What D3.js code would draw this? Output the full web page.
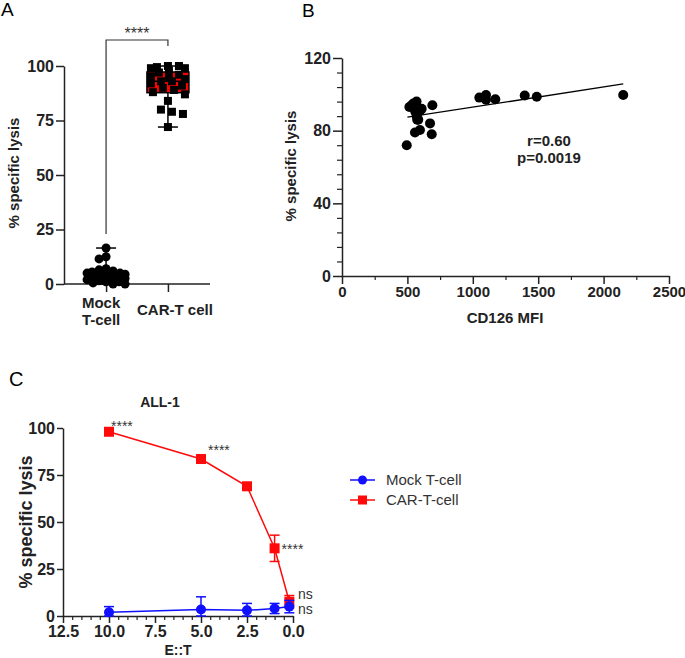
<!DOCTYPE html>
<html><head><meta charset="utf-8">
<script src="https://cdn.jsdelivr.net/npm/d3@7"></script>
<style>
body{margin:0;background:#fff}
text{font-family:"Liberation Sans",Arial,sans-serif}
</style>
</head><body>
<svg id="chart" width="685" height="658"></svg>
<script>
// ---------- DATA ----------
// Panel A
const catsA = ["Mock T-cell", "CAR-T cell"];
const mockLysis = [16.5, 12.5, 11.5, 7, 6.5, 6, 5.5, 5, 5, 4.5, 4.5, 4, 4, 3.5, 3, 3, 2.5, 2, 2, 1.5, 1, 1, 0.5, 0, 0];
const carLysis = [100, 100, 99.5, 99, 99, 98, 97, 96, 95, 95, 94, 93, 93, 92, 91, 90, 89, 88, 87, 84, 80, 79, 78, 72];
const ticksA = [0, 25, 50, 75, 100];
const sigA = "****";

// Panel B
const cd126MFI = [495, 515, 533, 545, 558, 560, 570, 571, 575, 583, 596, 596, 609, 673, 686, 691, 1050, 1101, 1101, 1172, 1397, 1489, 2150];
const lysisB   = [72, 93, 94, 95, 79, 90.5, 96, 88, 86, 86, 80.4, 91, 92, 84, 78, 94, 98.2, 99.6, 97, 97.3, 99.4, 98.7, 99.6];
const fitX = [500, 2150];
const fitY = [87.4, 105.7];
const ticksBx = [0, 500, 1000, 1500, 2000, 2500];
const ticksBy = [0, 40, 80, 120];
const statsB = ["r=0.60", "p=0.0019"];

// Panel C
const etRatio = [10, 5, 2.5, 1, 0.2];
const mockMean = [2, 3.5, 3, 4, 5];
const mockErr  = [3, 6.7, 3.7, 2.7, 3.3];
const carMean  = [98, 83.5, 69, 36, 7.6];
const carErr   = [1, 1, 1, 7, 3.3];
const seriesC = ["Mock T-cell", "CAR-T-cell"];
const ticksCx = [12.5, 10, 7.5, 5, 2.5, 0];
const ticksCy = [0, 25, 50, 75, 100];
const carSig = ["****", "****", null, "****", "ns"];
const mockSig = [null, null, null, null, "ns"];

// ---------- DRAW ----------
const svg = d3.select("#chart");
const AX = "#222";
const BOLD = "bold";

function styleAxis(g, size) {
  g.selectAll("path.domain").attr("stroke", AX).attr("stroke-width", 1.5);
  g.selectAll(".tick line").attr("stroke", AX).attr("stroke-width", 1.5);
  g.selectAll(".tick text").attr("fill", "#222").attr("font-size", size).attr("font-weight", BOLD)
    .attr("font-family", '"Liberation Sans",Arial,sans-serif');
}

// panel letters
svg.append("text").attr("x", 1).attr("y", 16).attr("font-size", 19).text("A");
svg.append("text").attr("x", 302).attr("y", 17).attr("font-size", 19).text("B");
svg.append("text").attr("x", 9).attr("y", 386).attr("font-size", 20).text("C");

// ===== Panel A =====
const yA = d3.scaleLinear().domain([0, 100]).range([284, 66]);
const xA = d3.scalePoint().domain(catsA).range([64, 210]).padding(0.68);

const gAy = svg.append("g").attr("transform", "translate(64,0)")
  .call(d3.axisLeft(yA).tickValues(ticksA).tickSize(8).tickSizeOuter(0).tickPadding(2));
styleAxis(gAy, 16);
const gAx = svg.append("g").attr("transform", "translate(0,284)")
  .call(d3.axisBottom(xA).tickSize(8).tickSizeOuter(0).tickFormat(""));
styleAxis(gAx, 15);
gAx.select("path.domain").attr("d", "M64,0H210");

// category labels
const labA = svg.append("g").attr("font-size", 15).attr("font-weight", BOLD).attr("fill", "#222").attr("text-anchor", "middle");
labA.append("text").attr("x", xA(catsA[0]) - 5).attr("y", 308).text("Mock");
labA.append("text").attr("x", xA(catsA[0]) - 5).attr("y", 325).text("T-cell");
labA.append("text").attr("x", xA(catsA[1]) + 7).attr("y", 315).text(catsA[1]);

svg.append("text").attr("transform", "translate(14,173) rotate(-90)").attr("dy", "0.35em")
  .attr("text-anchor", "middle").attr("font-size", 15).attr("font-weight", BOLD).attr("fill", "#222")
  .text("% specific lysis");

function boxStats(v) {
  const s = v.slice().sort(d3.ascending);
  return {min: s[0], q1: d3.quantile(s, 0.25), med: d3.quantile(s, 0.5), q3: d3.quantile(s, 0.75), max: s[s.length - 1]};
}
function swarm(values, yScale, minDist, maxOff) {
  const idx = values.map((v, i) => i).sort((a, b) => values[b] - values[a]);
  const placed = [];
  const off = new Array(values.length).fill(0);
  idx.forEach((i, k) => {
    const y = yScale(values[i]);
    let best = 0, bestScore = Infinity;
    const cands = [0];
    for (let d = 1; d <= maxOff; d++) { cands.push(k % 2 ? d : -d, k % 2 ? -d : d); }
    for (const c of cands) {
      let overlap = 0;
      for (const p of placed) {
        const dd = Math.hypot(p.x - c, p.y - y);
        if (dd < minDist) overlap += (minDist - dd);
      }
      if (overlap === 0) { best = c; bestScore = 0; break; }
      if (overlap < bestScore) { bestScore = overlap; best = c; }
    }
    off[i] = best;
    placed.push({x: best, y});
  });
  return off;
}

function drawBox(cat, vals, fill) {
  const st = boxStats(vals);
  const cx = xA(cat), w = 42, cap = 20;
  const g = svg.append("g");
  g.append("line").attr("x1", cx).attr("x2", cx).attr("y1", yA(st.min)).attr("y2", yA(st.max)).attr("stroke", "#000").attr("stroke-width", 1.5);
  g.append("rect").attr("x", cx - w / 2).attr("width", w).attr("y", yA(st.q3)).attr("height", yA(st.q1) - yA(st.q3))
    .attr("fill", fill).attr("stroke", "#000").attr("stroke-width", 1.5);
  g.append("line").attr("x1", cx - w / 2).attr("x2", cx + w / 2).attr("y1", yA(st.med)).attr("y2", yA(st.med)).attr("stroke", "#000").attr("stroke-width", 1.5);
  [st.min, st.max].forEach(v => g.append("line").attr("x1", cx - cap / 2).attr("x2", cx + cap / 2)
    .attr("y1", yA(v)).attr("y2", yA(v)).attr("stroke", "#000").attr("stroke-width", 1.5));
  return st;
}
drawBox(catsA[0], mockLysis, "#0000ff");
drawBox(catsA[1], carLysis, "#ff0000");

const offMock = swarm(mockLysis, yA, 7, 19);
svg.append("g").selectAll("circle").data(mockLysis).join("circle")
  .attr("cx", (d, i) => xA(catsA[0]) + offMock[i]).attr("cy", d => yA(d)).attr("r", 4.5).attr("fill", "#000");
const offCar = swarm(carLysis, yA, 11, 17);
svg.append("g").selectAll("rect").data(carLysis).join("rect")
  .attr("x", (d, i) => xA(catsA[1]) + offCar[i] - 4).attr("y", d => yA(d) - 4).attr("width", 8).attr("height", 8).attr("fill", "#000");

// significance bracket
const brY = 40;
svg.append("path").attr("fill", "none").attr("stroke", "#333").attr("stroke-width", 1.2)
  .attr("d", `M${xA(catsA[0])},${yA(d3.max(mockLysis)) - 14}V${brY}H${xA(catsA[1])}V${brY + 6}`);
svg.append("text").attr("x", (xA(catsA[0]) + xA(catsA[1])) / 2).attr("y", brY - 1).attr("text-anchor", "middle")
  .attr("font-size", 16).attr("fill", "#333").text(sigA);

// ===== Panel B =====
const xB = d3.scaleLinear().domain([0, 2500]).range([342, 669]);
const yB = d3.scaleLinear().domain([0, 120]).range([276, 58]);
const gBy = svg.append("g").attr("transform", "translate(342,0)")
  .call(d3.axisLeft(yB).tickValues(ticksBy).tickSize(9).tickSizeOuter(0).tickPadding(2));
styleAxis(gBy, 16);
svg.append("g").attr("transform", "translate(342,0)")
  .call(d3.axisLeft(yB).tickValues(d3.range(0, 121, 8).filter(v => v % 40)).tickSize(5).tickFormat(""))
  .call(g => { g.select(".domain").remove(); g.selectAll("line").attr("stroke", AX).attr("stroke-width", 1.2); });
const gBx = svg.append("g").attr("transform", "translate(0,276)")
  .call(d3.axisBottom(xB).tickValues(ticksBx).tickFormat(d3.format("d")).tickSize(8).tickSizeOuter(0).tickPadding(2));
styleAxis(gBx, 15);
svg.append("g").attr("transform", "translate(0,276)")
  .call(d3.axisBottom(xB).tickValues(d3.range(250, 2500, 500)).tickSize(4).tickFormat(""))
  .call(g => { g.select(".domain").remove(); g.selectAll("line").attr("stroke", AX).attr("stroke-width", 1.2); });

svg.append("text").attr("transform", "translate(291,166) rotate(-90)").attr("dy", "0.35em")
  .attr("text-anchor", "middle").attr("font-size", 15).attr("font-weight", BOLD).attr("fill", "#222")
  .text("% specific lysis");
svg.append("text").attr("x", 505).attr("y", 323).attr("text-anchor", "middle")
  .attr("font-size", 15).attr("font-weight", BOLD).attr("fill", "#222").text("CD126 MFI");

svg.append("line").attr("x1", xB(fitX[0])).attr("y1", yB(fitY[0])).attr("x2", xB(fitX[1])).attr("y2", yB(fitY[1]))
  .attr("stroke", "#000").attr("stroke-width", 1.3);
svg.append("g").selectAll("circle").data(cd126MFI).join("circle")
  .attr("cx", d => xB(d)).attr("cy", (d, i) => yB(lysisB[i])).attr("r", 5).attr("fill", "#000");
svg.append("g").attr("font-size", 15).attr("font-weight", BOLD).attr("text-anchor", "middle").attr("fill", "#222")
  .selectAll("text").data(statsB).join("text").attr("x", 549).attr("y", (d, i) => 146 + i * 17).text(d => d);

// ===== Panel C =====
const xC = d3.scaleLinear().domain([12.5, 0]).range([63, 293]);
const yC = d3.scaleLinear().domain([0, 100]).range([616, 428]);
const gCy = svg.append("g").attr("transform", "translate(63,0)")
  .call(d3.axisLeft(yC).tickValues(ticksCy).tickSize(6).tickSizeOuter(0).tickPadding(2));
styleAxis(gCy, 16);
const gCx = svg.append("g").attr("transform", "translate(0,616)")
  .call(d3.axisBottom(xC).tickValues(ticksCx).tickFormat(d3.format(".1f")).tickSize(7).tickSizeOuter(0).tickPadding(3));
styleAxis(gCx, 16);
svg.append("g").attr("transform", "translate(0,616)")
  .call(d3.axisBottom(xC).tickValues(d3.range(0.5, 12.5, 0.5).filter(v => v % 2.5)).tickSize(4).tickFormat(""))
  .call(g => { g.select(".domain").remove(); g.selectAll("line").attr("stroke", AX).attr("stroke-width", 1.2); });

svg.append("text").attr("transform", "translate(26,522) rotate(-90)").attr("dy", "0.35em")
  .attr("text-anchor", "middle").attr("font-size", 18).attr("font-weight", BOLD).attr("fill", "#222")
  .text("% specific lysis");
svg.append("text").attr("x", 178).attr("y", 655).attr("text-anchor", "middle")
  .attr("font-size", 14).attr("font-weight", BOLD).attr("fill", "#222").text("E::T");
svg.append("text").attr("x", 160).attr("y", 407).attr("text-anchor", "middle")
  .attr("font-size", 14).attr("font-weight", BOLD).attr("fill", "#222").text("ALL-1");

const colors = {mock: "#1010ff", car: "#ff0a0a"};
const lineGen = d3.line().x(d => xC(d.x)).y(d => yC(d.y));
function drawSeries(mean, err, color, marker) {
  const pts = etRatio.map((x, i) => ({x, y: mean[i], e: err[i]}));
  const g = svg.append("g");
  g.append("path").datum(pts).attr("d", lineGen).attr("fill", "none").attr("stroke", color).attr("stroke-width", 1.5);
  pts.forEach(p => {
    const lo = Math.max(0, p.y - p.e), hi = p.y + p.e;
    g.append("line").attr("x1", xC(p.x)).attr("x2", xC(p.x)).attr("y1", yC(lo)).attr("y2", yC(hi)).attr("stroke", color).attr("stroke-width", 1.5);
    [lo, hi].forEach(v => g.append("line").attr("x1", xC(p.x) - 5).attr("x2", xC(p.x) + 5).attr("y1", yC(v)).attr("y2", yC(v)).attr("stroke", color).attr("stroke-width", 1.5));
    if (marker === "circle") g.append("circle").attr("cx", xC(p.x)).attr("cy", yC(p.y)).attr("r", 5).attr("fill", color);
    else g.append("rect").attr("x", xC(p.x) - 5).attr("y", yC(p.y) - 5).attr("width", 10).attr("height", 10).attr("fill", color);
  });
}
drawSeries(carMean, carErr, colors.car, "square");
drawSeries(mockMean, mockErr, colors.mock, "circle");

// significance marks
const starOff = [[2, -1], [7, -4], null, [7, 6], null];
carSig.forEach((s, i) => {
  if (!s || s === "ns") return;
  svg.append("text").attr("x", xC(etRatio[i]) + starOff[i][0]).attr("y", yC(carMean[i]) + starOff[i][1])
    .attr("font-size", 14).attr("fill", "#333").text(s);
});
svg.append("text").attr("x", 298).attr("y", 599).attr("font-size", 14).attr("fill", "#333").text(carSig[4]);
svg.append("text").attr("x", 298).attr("y", 614).attr("font-size", 14).attr("fill", "#333").text(mockSig[4]);

// legend
const leg = svg.append("g");
[[seriesC[0], colors.mock, "circle"], [seriesC[1], colors.car, "square"]].forEach(([name, c, m], i) => {
  const y = 480 + i * 20;
  leg.append("line").attr("x1", 350).attr("x2", 375).attr("y1", y).attr("y2", y).attr("stroke", c).attr("stroke-width", 1.5);
  if (m === "circle") leg.append("circle").attr("cx", 362.5).attr("cy", y).attr("r", 4.5).attr("fill", c);
  else leg.append("rect").attr("x", 358).attr("y", y - 4.5).attr("width", 9).attr("height", 9).attr("fill", c);
  leg.append("text").attr("x", 386).attr("y", y).attr("dy", "0.35em").attr("font-size", 15).attr("fill", "#333").text(name);
});
</script>
</body></html>
